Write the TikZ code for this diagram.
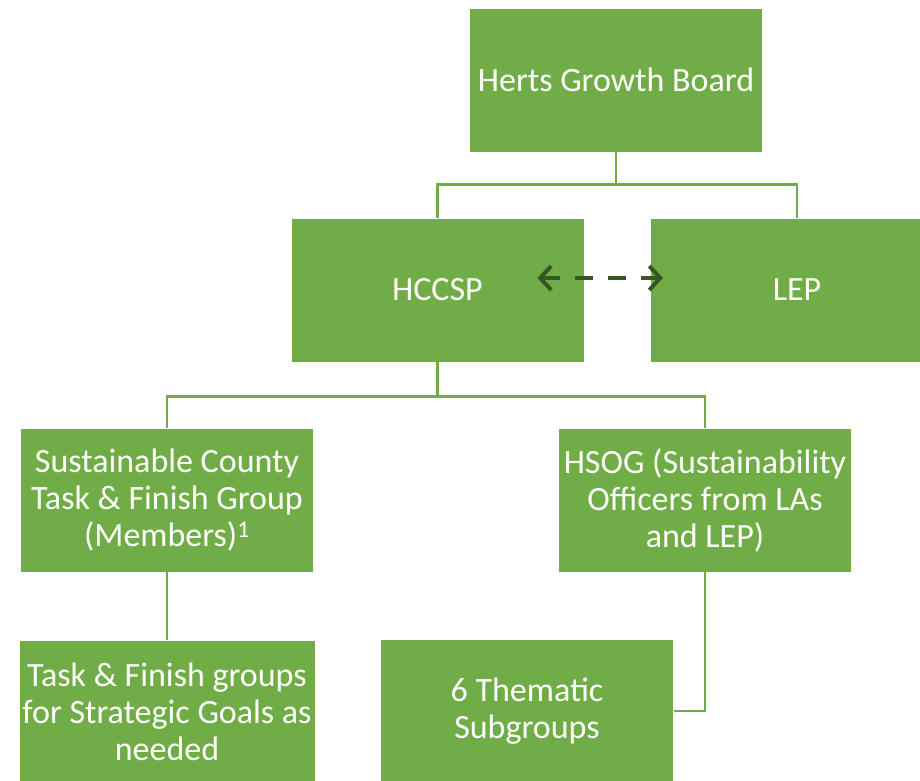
\documentclass[tikz,border=0pt]{standalone}
\usepackage{fontspec}
\setmainfont{Carlito}
\usetikzlibrary{arrows.meta}
\definecolor{leafgreen}{HTML}{70AD47}
\definecolor{darkgreen}{HTML}{375623}

\begin{document}
\begin{tikzpicture}[
            x=1pt, y=-1pt,
            box/.style={rectangle, fill=leafgreen, draw=white, line width=0.6pt,
                        minimum width=293pt, minimum height=144pt, align=center,
                        text=white, font=\fontsize{34}{37}\selectfont},
            link/.style={draw=leafgreen, line width=2.6pt},
            twoway/.style={{Straight Barb[length=11pt,width=24pt]}-{Straight Barb[length=11pt,width=24pt]},
                        line width=4pt, color=darkgreen, dash pattern=on 18pt off 15pt}
        ]
            \useasboundingbox (0,0) rectangle (920,780);
            \clip (0,0) rectangle (920,780);

            \node[box] (hgb) at (616,80) {Herts Growth Board};
            \node[box] (hccsp) at (437.5,290) {HCCSP};
            \node[box] (lep) at (797,290) {LEP};
            \node[box] (county) at (167,500) {Sustainable County\\Task \& Finish Group\\(Members)\textsuperscript{1}};
            \node[box] (hsog) at (705,500) {HSOG (Sustainability\\Officers from LAs\\and LEP)};
            \node[box] (goals) at (167,712) {Task \& Finish groups\\for Strategic Goals as\\needed};
            \node[box] (thematic) at (527,711) {6 Thematic\\Subgroups};

            % tree connectors
            \draw[link] (hgb.south) -- ++(0,32) -| (hccsp.north);
            \draw[link] (hgb.south) -- ++(0,32) -| (lep.north);
            \draw[link] (hccsp.south) -- ++(0,34) -| (county.north);
            \draw[link] (hccsp.south) -- ++(0,34) -| (hsog.north);
            \draw[link] (county) -- (goals);
            \draw[link] (hsog.south) |- (thematic.east);

            % partnership link
            \draw[twoway] ([shift={(100,-12)}]hccsp.center) -- ([shift={(-134,-12)}]lep.center);
        \end{tikzpicture}
\end{document}
